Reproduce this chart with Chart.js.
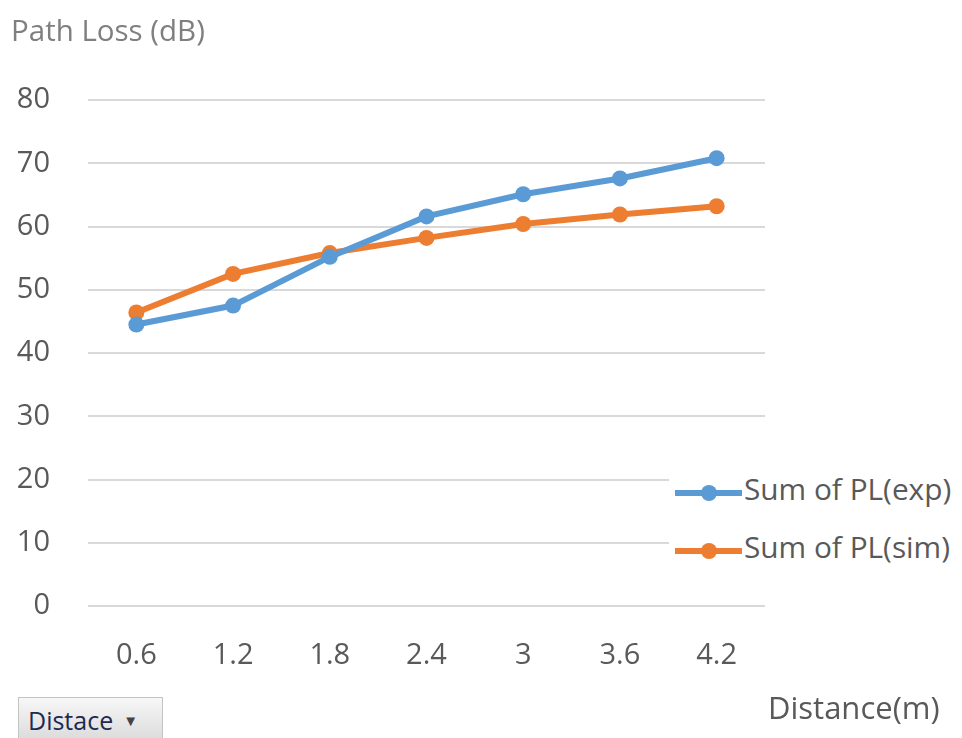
<!DOCTYPE html>
<html><head><meta charset="utf-8">
<script src="https://cdn.jsdelivr.net/npm/chart.js@4.4.1/dist/chart.umd.min.js"></script>
<style>
html,body{margin:0;padding:0;background:#fff;}
#wrap{position:relative;width:962px;height:738px;overflow:hidden;font-family:"Open Sans",sans-serif;}
canvas{position:absolute;left:0;top:0;}
.txt{position:absolute;white-space:nowrap;color:#595959;}
#ytitle{left:11px;top:9px;font-size:29.5px;color:#7f7f7f;}
#xtitle{left:768px;top:686px;font-size:31px;}
#btn{position:absolute;left:18px;top:697px;width:145px;height:46px;box-sizing:border-box;border:1px solid #c4c4c4;background:linear-gradient(#f7f7f7,#dadada);font-size:25px;color:#1e2a50;padding:5px 0 0 9px;white-space:nowrap;}
#btn span{font-size:15px;color:#444;margin-left:10px;vertical-align:4px;}
#legbox{position:absolute;left:669px;top:465px;width:293px;height:110px;background:#fff;}
.leg{position:absolute;left:675px;width:290px;font-size:29.8px;color:#595959;height:30px;}
.leg i{position:absolute;left:0;top:12px;width:67px;height:6px;}
.leg b{position:absolute;left:26px;top:7px;width:16px;height:16px;border-radius:50%;}
.leg em{position:absolute;left:69px;top:-10px;font-style:normal;white-space:nowrap;}
</style></head>
<body><div id="wrap">
<canvas id="c" width="962" height="738"></canvas>
<div id="legbox"></div>
<div class="txt" id="ytitle">Path Loss (dB)</div>
<div class="txt" id="xtitle">Distance(m)</div>
<div id="btn">Distace<span>▼</span></div>
<div class="leg" id="leg0" style="top:478px"><i></i><b></b><em></em></div>
<div class="leg" id="leg1" style="top:536px"><i></i><b></b><em></em></div>
</div>
<script>
const distances = ["0.6","1.2","1.8","2.4","3","3.6","4.2"];
const plExp = [44.5, 47.5, 55.2, 61.6, 65.1, 67.6, 70.8];
const plSim = [46.4, 52.5, 55.8, 58.2, 60.4, 61.9, 63.2];
const seriesNames = ["Sum of PL(exp)", "Sum of PL(sim)"];
const seriesColors = ["#5B9BD5", "#ED7D31"];
const yTicks = [0,10,20,30,40,50,60,70,80];

const seriesData = [plExp, plSim];
seriesNames.forEach((n,i)=>{
  const el = document.getElementById('leg'+i);
  el.querySelector('i').style.background = seriesColors[i];
  el.querySelector('b').style.background = seriesColors[i];
  el.querySelector('em').textContent = n;
});

new Chart(document.getElementById('c'), {
  type: 'line',
  data: {
    labels: distances,
    datasets: seriesNames.map((n,i)=>({
      label: n,
      data: seriesData[i],
      borderColor: seriesColors[i],
      backgroundColor: seriesColors[i],
      borderWidth: 6,
      pointRadius: 8,
      pointHoverRadius: 8,
      pointBorderWidth: 0,
      tension: 0
    }))
  },
  options: {
    responsive: false,
    animation: false,
    layout: { padding: { left: 0, top: 100, right: 197, bottom: 0 } },
    plugins: { legend: { display: false }, tooltip: { enabled: false } },
    scales: {
      x: {
        offset: true,
        grid: { display: false, drawTicks: false },
        border: { display: false },
        ticks: { color: '#595959', font: { family: 'Open Sans', size: 29 }, padding: 32 },
        afterFit: s => { s.height = 132; }
      },
      y: {
        min: 0, max: 80,
        afterBuildTicks: s => { s.ticks = yTicks.map(v=>({value:v})); },
        grid: { color: '#d9d9d9', lineWidth: 2, drawTicks: false },
        border: { display: false },
        ticks: { color: '#595959', font: { family: 'Open Sans', size: 29 }, padding: 38 },
        afterFit: s => { s.width = 88; }
      }
    }
  }
});
</script>
</body></html>
